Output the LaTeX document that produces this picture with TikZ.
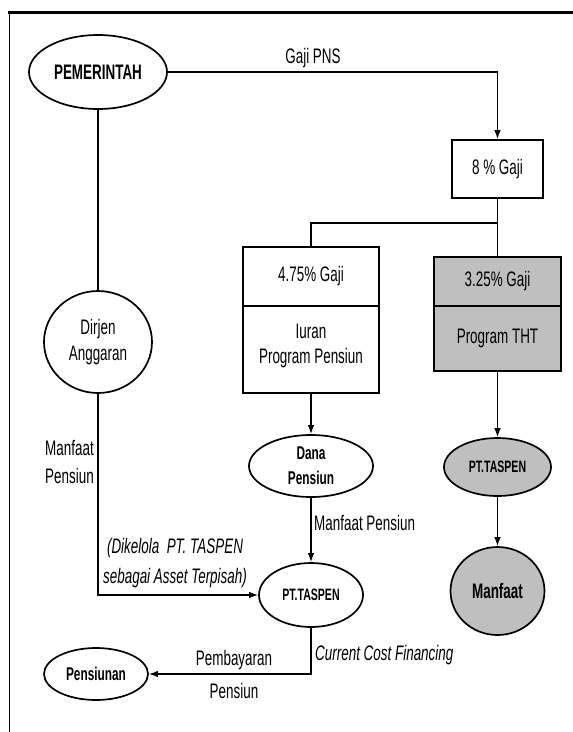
\documentclass[tikz,border=0pt]{standalone}
\usepackage{fontspec}
\setmainfont{Liberation Sans}[FakeStretch=0.64]
\usetikzlibrary{shapes.geometric,arrows.meta}
\definecolor{boxgray}{RGB}{191,191,191}
\newcommand\fsNorm{\fontsize{21}{25}\selectfont}
\begin{document}
\begin{tikzpicture}[x=1pt,y=-1pt,
  lbl/.style={inner sep=0pt, font=\fsNorm},
  ov/.style={ellipse, draw, line width=1.7pt, inner sep=0pt, align=center},
  bx/.style={rectangle, draw, line width=1.7pt, inner sep=0pt, align=center, font=\fsNorm},
  con/.style={line width=1.3pt},
  arr/.style={con, -{Latex[length=9pt,width=6.5pt]}}]
\useasboundingbox (0,0) rectangle (573,732);
\fill[white] (0,0) rectangle (573,732);
% frame
\draw[line width=2.6pt] (8,12.5) -- (573,12.5);
\draw[line width=1.5pt] (9.5,12) -- (9.5,732);
% nodes
\node[ov, minimum width=138pt, minimum height=74pt, font=\bfseries\fontsize{21}{25}\selectfont] (pem) at (98,72) {PEMERINTAH};
\node[bx, minimum width=91pt, minimum height=58pt] (g8) at (497.5,169) {8 \% Gaji};
\node[bx, minimum width=136pt, minimum height=59pt] (a1) at (311,276.5) {4.75\% Gaji};
\node[bx, minimum width=136pt, minimum height=87pt, text depth=12pt] (a2) at (311,349.5) {Iuran\\Program Pensiun};
\node[bx, fill=boxgray, minimum width=127pt, minimum height=49pt] (b1) at (497.5,281.5) {3.25\% Gaji};
\node[bx, fill=boxgray, minimum width=127pt, minimum height=65pt] (b2) at (497.5,338.5) {Program THT};
\node[ov, minimum width=108pt, minimum height=102pt, font=\fontsize{21}{26}\selectfont] (dir) at (98,342) {Dirjen\\Anggaran};
\node[ov, minimum width=124pt, minimum height=62pt, font=\bfseries\fontsize{18.5}{25}\selectfont] (dana) at (311,466) {Dana\\Pensiun};
\node[ov, minimum width=104pt, minimum height=64pt, font=\bfseries\fontsize{16.5}{20}\selectfont] (tas) at (311,595) {PT.TASPEN};
\node[ov, fill=boxgray, minimum width=107pt, minimum height=58pt, font=\bfseries\fontsize{16.5}{20}\selectfont] (tas2) at (497.5,467) {PT.TASPEN};
\node[ov, fill=boxgray, minimum width=94pt, minimum height=88pt, font=\bfseries\fontsize{21}{25}\selectfont] (man) at (497.5,591) {Manfaat};
\node[ov, minimum width=104pt, minimum height=52pt, font=\bfseries\fontsize{18.5}{22}\selectfont] (pen) at (96,674) {Pensiunan};
% connectors
\draw[arr] (pem.east) -- (pem.east -| g8.north) -- (g8.north);
\coordinate (jn) at (497.5,223);
\draw[con] (g8.south) -- (jn) -- (b1.north);
\draw[con] (jn) -- (jn -| a1.north) -- (a1.north);
\draw[arr] (a2.south) -- (dana.north);
\draw[arr] (b2.south) -- (tas2.north);
\draw[arr] (tas2.south) -- (man.north);
\draw[arr] (dana.south) -- (tas.north);
\draw[con] (pem.south) -- (dir.north);
\draw[arr] (dir.south) |- (tas.west);
\draw[arr] (tas.south) |- (pen.east);
% labels
\node[lbl, anchor=base] (lgaji) at (313,63) {Gaji PNS};
\node[lbl, anchor=north east, align=right, font=\fontsize{21}{28}\selectfont] (lmp1) at (94,440) {Manfaat\\Pensiun};
\node[lbl, anchor=north, align=center, font=\itshape\fontsize{21}{30}\selectfont] (lkel) at (175,538) {(Dikelola~~PT. TASPEN\\sebagai Asset Terpisah)};
\node[lbl, anchor=base west] (lmp2) at (314,530) {Manfaat Pensiun};
\node[lbl, anchor=base west, font=\itshape\fsNorm] (lccf) at (315,660) {Current Cost Financing};
\node[lbl, anchor=base] (lpb1) at (234,665) {Pembayaran};
\node[lbl, anchor=base] (lpb2) at (234,698) {Pensiun};
\end{tikzpicture}
\end{document}
